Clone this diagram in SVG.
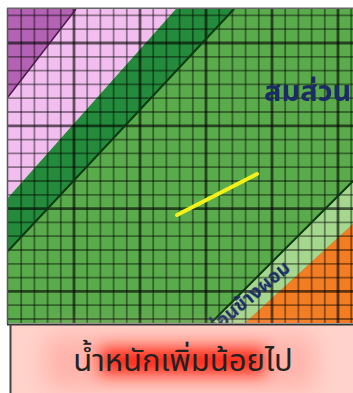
<svg xmlns="http://www.w3.org/2000/svg" width="353" height="393" viewBox="0 0 353 393">
<style>
.g1{stroke:#000;stroke-opacity:.42;stroke-width:1.8}
.g5{stroke:#000;stroke-opacity:.6;stroke-width:2.8}
.bd{stroke:#0b3a12;stroke-width:2;fill:none}
.lbl{font-family:"Noto Sans Thai","Noto Sans","DejaVu Sans",sans-serif;font-weight:bold;fill:#1b2a66}
.ttl{font-family:"Noto Sans Thai","Noto Sans","DejaVu Sans",sans-serif;fill:#222;font-size:31px}
</style>
<defs>
<clipPath id="cc"><rect x="8" y="9" width="345" height="314"/></clipPath>
<filter id="bl" x="-50%" y="-100%" width="200%" height="300%"><feGaussianBlur stdDeviation="8"/></filter>
<filter id="bl2" x="-50%" y="-100%" width="200%" height="300%"><feGaussianBlur stdDeviation="12"/></filter>
<filter id="sb"><feGaussianBlur stdDeviation="0.7"/></filter>
</defs>
<rect width="353" height="393" fill="#fff"/>
<g id="chart" clip-path="url(#cc)">
<rect x="8" y="9" width="345" height="314" fill="#5aab4b"/>
<polygon points="8,9 76,9 8,97" fill="#b463b4"/>
<polygon points="76,9 176,9 8,198 8,97" fill="#f2bef0"/>
<polygon points="176,9 234,9 8,251 8,198" fill="#238b3b"/>
<polygon points="353,181 353,224 245,323 211,323" fill="#a6d78e"/>
<polygon points="353,224 353,323 245,323" fill="#f27d22"/>
<g id="grid">
<path class="g1" d="M21.2 9V323M34.4 9V323M47.6 9V323M60.8 9V323M87.2 9V323M100.4 9V323M113.6 9V323M126.8 9V323M153.2 9V323M166.4 9V323M179.6 9V323M192.8 9V323M219.2 9V323M232.4 9V323M245.6 9V323M258.8 9V323M285.2 9V323M298.4 9V323M311.6 9V323M324.8 9V323M351.2 9V323"/>
<path class="g5" d="M74 9V323M140 9V323M206 9V323M272 9V323M338 9V323"/>
<path class="g1" d="M8 15.4H353M8 29.2H353M8 56.8H353M8 70.6H353M8 84.4H353M8 98.2H353M8 112H353M8 139.6H353M8 153.4H353M8 167.2H353M8 181H353M8 194.8H353M8 222.4H353M8 236.2H353M8 250H353M8 263.8H353M8 277.6H353M8 305.2H353M8 319H353"/>
<path class="g5" d="M8 43H353M8 125.8H353M8 208.6H353M8 291.4H353"/>
</g>
<line x1="76" y1="9" x2="8" y2="97" stroke="#4a1a4a" stroke-width="1.5"/>
<line x1="234" y1="9" x2="8" y2="251" class="bd"/>
<line x1="353" y1="181" x2="211" y2="323" class="bd"/>
<line id="trend" x1="177" y1="215" x2="257" y2="174" stroke="#f2f21a" stroke-width="4" stroke-linecap="round"/>
<text class="lbl" x="264" y="101" font-size="29" filter="url(#sb)">สมส่วน</text>
<text class="lbl" x="0" y="0" font-size="19" transform="translate(213,336) rotate(-40)" filter="url(#sb)">ค่อนข้างผอม</text>
</g>
<line x1="7.5" y1="8" x2="7.5" y2="324" stroke="#555" stroke-width="1.5"/>
<line x1="7" y1="8.2" x2="353" y2="8.2" stroke="#666" stroke-width="1.5"/>
<g id="caption">
<rect x="10" y="324" width="343" height="69" fill="#ffd3cb"/>
<rect x="45" y="336" width="270" height="52" fill="#ffb2aa" filter="url(#bl2)"/>
<rect x="100" y="348" width="165" height="26" fill="#ff2a18" filter="url(#bl)"/>
<line x1="7" y1="324.5" x2="353" y2="324.5" stroke="#333" stroke-width="2"/>
<line x1="10.5" y1="324" x2="10.5" y2="393" stroke="#444" stroke-width="2"/>
<text class="ttl" x="183" y="371" text-anchor="middle">น้ำหนักเพิ่มน้อยไป</text>
</g>
</svg>
